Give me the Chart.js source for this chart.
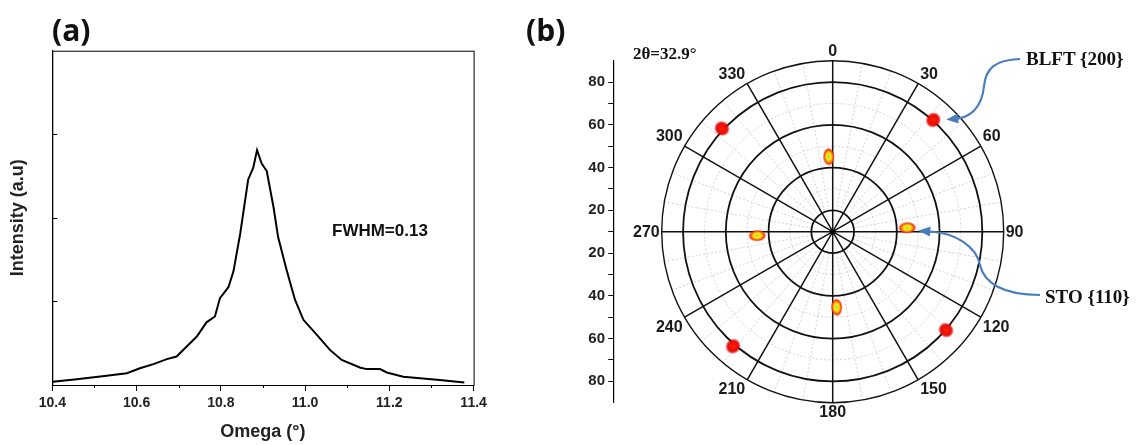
<!DOCTYPE html>
<html>
<head>
<meta charset="utf-8">
<script src="https://cdn.jsdelivr.net/npm/chart.js@4.4.0/dist/chart.umd.min.js"></script>
<style>
  html, body { margin: 0; padding: 0; background: #fff; }
  #wrap { position: relative; width: 1138px; height: 445px; overflow: hidden; }
  canvas { position: absolute; top: 0; }
  #chartA { left: 0; }
  #chartB { left: 500px; }
  .lbl { position: absolute; white-space: nowrap; color: #111; line-height: 1; transform: translateY(-50%); }
  .panel { font-family: 'Open Sans'; font-weight: 700; font-size: 30px; }
  .sans { font-family: 'Liberation Sans'; font-weight: 700; font-size: 17px; }
  .serif { font-family: 'Liberation Serif'; font-weight: 700; }
</style>
</head>
<body>
<div id="wrap">
  <canvas id="chartA" width="500" height="445"></canvas>
  <canvas id="chartB" width="638" height="445"></canvas>
  <div class="lbl panel" style="left:52px;top:30px">(a)</div>
  <div class="lbl panel" style="left:526px;top:30px">(b)</div>
  <div class="lbl sans" style="left:332px;top:230px">FWHM=0.13</div>
  <div class="lbl serif" style="left:633px;top:53px;font-size:17px">2θ=32.9°</div>
  <div class="lbl serif" style="left:1026px;top:58px;font-size:19px">BLFT {200}</div>
  <div class="lbl serif" style="left:1045px;top:296px;font-size:19px">STO {110}</div>
</div>
<script>
// ---- panel (a): omega rocking curve ----
const omega = [10.401, 10.458, 10.529, 10.577, 10.608, 10.640, 10.672, 10.695, 10.719, 10.743,
               10.766, 10.786, 10.798, 10.818, 10.830, 10.846, 10.865, 10.877, 10.886, 10.897,
               10.909, 10.925, 10.936, 10.956, 10.976, 10.996, 11.028, 11.059, 11.087, 11.130,
               11.146, 11.178, 11.194, 11.233, 11.273, 11.320, 11.378];
const intensity = [0.04, 0.07, 0.11, 0.14, 0.20, 0.25, 0.31, 0.34, 0.46, 0.58,
                   0.75, 0.82, 1.04, 1.17, 1.36, 1.81, 2.46, 2.60, 2.81, 2.65,
                   2.56, 2.13, 1.77, 1.38, 1.02, 0.78, 0.60, 0.42, 0.30, 0.21,
                   0.19, 0.19, 0.15, 0.10, 0.08, 0.06, 0.03];
const omegaMinor = [10.5, 10.7, 10.9, 11.1, 11.3];
const intensityTicks = [1, 2, 3];

// ---- panel (b): pole figure ----
const stoPhi = [357, 87, 177, 267];
const stoPsi = [45.1, 44.9, 45.4, 45.3];
const blftPhi = [42, 131, 221, 313];
const blftPsi = [80.3, 80.2, 81.0, 80.8];
const phiLabels = [0, 30, 60, 90, 120, 150, 180, 210, 240, 270, 300, 330];
const psiCenter = 10;
const psiOuter = 90;
const psiRings = [20, 40, 60, 80];
const psiDotted = [30, 50, 70];
const psiAxisLabels = [20, 40, 60, 80];
const psiAxisMinor = [10, 30, 50, 70];

Chart.defaults.font.family = 'Liberation Sans';
Chart.defaults.color = '#222';

const frameA = {
  id: 'frameA',
  afterDraw(chart) {
    const {ctx, chartArea: a, scales: {x, y}} = chart;
    ctx.save();
    ctx.strokeStyle = '#000';
    ctx.lineWidth = 1;
    ctx.strokeRect(a.left + 0.5, a.top + 0.5, a.right - a.left, a.bottom - a.top);
    ctx.beginPath();
    omegaMinor.forEach(v => {
      const px = Math.round(x.getPixelForValue(v)) + 0.5;
      ctx.moveTo(px, a.bottom); ctx.lineTo(px, a.bottom + 3);
    });
    intensityTicks.forEach(v => {
      const py = Math.round(y.getPixelForValue(v)) + 0.5;
      ctx.moveTo(a.left, py); ctx.lineTo(a.left + 5, py);
    });
    ctx.stroke();
    ctx.restore();
  }
};

new Chart(document.getElementById('chartA'), {
  type: 'scatter',
  data: {
    datasets: [{
      data: omega.map((v, i) => ({x: v, y: intensity[i]})),
      showLine: true,
      borderColor: '#000',
      borderWidth: 2,
      pointRadius: 0,
      tension: 0
    }]
  },
  options: {
    responsive: false,
    animation: false,
    layout: {padding: {top: 50.7, right: 26.4, left: 0, bottom: 0}},
    plugins: {legend: {display: false}, tooltip: {enabled: false}},
    scales: {
      x: {
        type: 'linear', min: 10.4, max: 11.4,
        afterFit: s => { s.height = 60; },
        ticks: {stepSize: 0.2, padding: 4, font: {size: 14, weight: 'bold'}, callback: v => v.toFixed(1)},
        grid: {drawOnChartArea: false, tickLength: 6, color: '#000'},
        border: {color: '#000'},
        title: {display: true, text: 'Omega (°)', font: {size: 18, weight: 'bold'}, color: '#222', padding: {top: 0, bottom: 2}}
      },
      y: {
        min: 0, max: 4,
        afterFit: s => { s.width = 52.3; },
        ticks: {display: false},
        grid: {display: false},
        border: {color: '#000'},
        title: {display: true, text: 'Intensity (a.u)', font: {size: 18, weight: 'bold'}, color: '#222', padding: {top: 7, bottom: 0}}
      }
    }
  },
  plugins: [frameA]
});

// spot images, elongated along the radial direction before rotation
function makeSpot(w, h, stops) {
  const c = document.createElement('canvas');
  c.width = w; c.height = h;
  const g = c.getContext('2d');
  g.translate(w / 2, h / 2);
  g.scale(1, h / w);
  const grad = g.createRadialGradient(0, 0, 0, 0, 0, w / 2);
  stops.forEach(([o, col]) => grad.addColorStop(o, col));
  g.fillStyle = grad;
  g.beginPath(); g.arc(0, 0, w / 2, 0, 2 * Math.PI); g.fill();
  return c;
}
const stoSpot = makeSpot(11, 17, [[0, '#8fdc3c'], [0.22, '#d6ee2a'], [0.42, '#ffe41a'], [0.62, '#ffa200'], [0.82, '#f03a0c'], [1, 'rgba(228,20,20,0.55)']]);
const blftSpot = makeSpot(14, 15, [[0, '#ff2200'], [0.7, '#e80a0a'], [1, 'rgba(220,0,0,0.45)']]);

const toXY = (phi, psi) => phi.map((p, i) => {
  const t = p * Math.PI / 180, r = psi[i] - psiCenter;
  return {x: r * Math.sin(t), y: r * Math.cos(t)};
});

const polarGrid = {
  id: 'polarGrid',
  beforeDatasetsDraw(chart) {
    const {ctx, scales: {x, y}} = chart;
    const cx = x.getPixelForValue(0), cy = y.getPixelForValue(0);
    const k = cy - y.getPixelForValue(1);
    const R = p => (p - psiCenter) * k;
    const pt = (deg, r) => {
      const t = deg * Math.PI / 180;
      return [cx + r * Math.sin(t), cy - r * Math.cos(t)];
    };
    ctx.save();
    // dotted background grid
    ctx.strokeStyle = '#d2d2d2';
    ctx.lineWidth = 1;
    ctx.setLineDash([2, 2]);
    psiDotted.forEach(p => { ctx.beginPath(); ctx.arc(cx, cy, R(p), 0, 2 * Math.PI); ctx.stroke(); });
    for (let a = 10; a < 360; a += 10) {
      if (a % 30 === 0) continue;
      const [x0, y0] = pt(a, R(psiRings[0]));
      const [x1, y1] = pt(a, R(psiOuter));
      ctx.beginPath(); ctx.moveTo(x0, y0); ctx.lineTo(x1, y1); ctx.stroke();
    }
    ctx.setLineDash([]);
    // solid rings and spokes
    ctx.strokeStyle = '#111';
    ctx.lineWidth = 1.8;
    psiRings.forEach(p => { ctx.beginPath(); ctx.arc(cx, cy, R(p), 0, 2 * Math.PI); ctx.stroke(); });
    ctx.lineWidth = 1.4;
    ctx.beginPath(); ctx.arc(cx, cy, R(psiOuter), 0, 2 * Math.PI); ctx.stroke();
    ctx.lineWidth = 1.5;
    phiLabels.forEach(a => {
      const [x1, y1] = pt(a, R(psiOuter));
      ctx.beginPath(); ctx.moveTo(cx, cy); ctx.lineTo(x1, y1); ctx.stroke();
    });
    ctx.fillStyle = '#000';
    ctx.beginPath(); ctx.arc(cx, cy, 2.5, 0, 2 * Math.PI); ctx.fill();
    // angle labels
    ctx.font = 'bold 16px "Liberation Sans"';
    ctx.fillStyle = '#1a1a1a';
    phiLabels.forEach(a => {
      const t = a * Math.PI / 180, s = Math.sin(t), c = Math.cos(t);
      let [lx, ly] = pt(a, R(psiOuter));
      ctx.textAlign = s > 0.01 ? 'left' : (s < -0.01 ? 'right' : 'center');
      if (c > 0.01) { ctx.textBaseline = 'alphabetic'; ly -= 5; }
      else if (c < -0.01) { ctx.textBaseline = 'top'; ly += 2; }
      else { ctx.textBaseline = 'middle'; ly += 1; }
      if (s > 0.01) lx += 2; else if (s < -0.01) lx -= 2;
      ctx.fillText(String(a), lx, ly);
    });
    ctx.restore();
  }
};

const arrows = {
  id: 'arrows',
  afterDatasetsDraw(chart) {
    const {ctx, scales: {x, y}} = chart;
    const off = 500;
    const spot = (phi, psi) => {
      const t = phi * Math.PI / 180, r = psi - psiCenter;
      return [x.getPixelForValue(r * Math.sin(t)), y.getPixelForValue(r * Math.cos(t))];
    };
    const draw = (segs, base, tip) => {
      ctx.beginPath();
      ctx.moveTo(segs[0][0] - off, segs[0][1]);
      for (let i = 1; i < segs.length; i += 3) {
        ctx.bezierCurveTo(segs[i][0] - off, segs[i][1], segs[i + 1][0] - off, segs[i + 1][1], segs[i + 2][0] - off, segs[i + 2][1]);
      }
      ctx.stroke();
      const dx = tip[0] - (base[0] - off), dy = tip[1] - base[1];
      const L = Math.hypot(dx, dy), ux = dx / L, uy = dy / L;
      const bx = tip[0] - ux * 12, by = tip[1] - uy * 12;
      ctx.beginPath();
      ctx.moveTo(tip[0], tip[1]);
      ctx.lineTo(bx - uy * 5, by + ux * 5);
      ctx.lineTo(bx + uy * 5, by - ux * 5);
      ctx.closePath();
      ctx.fill();
    };
    ctx.save();
    ctx.strokeStyle = '#4a7dbd';
    ctx.fillStyle = '#4a7dbd';
    ctx.lineWidth = 2.2;
    const b = spot(blftPhi[0], blftPsi[0]);
    draw([[1020, 59], [995, 60], [986, 68], [984, 86], [982, 108], [970, 117], [957, 118.6]],
         [957, 118.6], [b[0] + 13, b[1] - 0.5]);
    const s = spot(stoPhi[1], stoPsi[1]);
    draw([[1040, 295], [1003, 295], [984, 283], [980, 265], [976, 246], [955, 233], [930, 231.5]],
         [930, 231.5], [s[0] + 11, s[1] + 3]);
    ctx.restore();
  }
};

new Chart(document.getElementById('chartB'), {
  type: 'scatter',
  data: {
    datasets: [
      {data: toXY(stoPhi, stoPsi), pointStyle: stoSpot, pointRadius: 6, rotation: c => stoPhi[c.dataIndex]},
      {data: toXY(blftPhi, blftPsi), pointStyle: blftSpot, pointRadius: 6, rotation: c => blftPhi[c.dataIndex]}
    ]
  },
  options: {
    responsive: false,
    animation: false,
    layout: {padding: {top: 60.7, bottom: 42.3, right: 85.9, left: 0}},
    plugins: {legend: {display: false}, tooltip: {enabled: false}},
    scales: {
      x: {type: 'linear', min: -102.6, max: 102.6, display: false},
      y: {
        type: 'linear', min: psiCenter - psiOuter, max: psiOuter - psiCenter,
        afterFit: s => { s.width = 113.3; },
        afterBuildTicks: s => {
          const vals = [];
          psiAxisLabels.concat(psiAxisMinor).forEach(p => {
            vals.push(p - psiCenter);
            if (p !== psiCenter) vals.push(psiCenter - p);
          });
          s.ticks = vals.sort((a, b) => a - b).map(v => ({value: v}));
        },
        ticks: {
          autoSkip: false, padding: 3.3, font: {size: 15, weight: 'bold'},
          callback: v => {
            const p = Math.abs(v) + psiCenter;
            return psiAxisLabels.includes(p) ? String(p) : '';
          }
        },
        grid: {drawOnChartArea: false, tickLength: 5, color: '#000'},
        border: {color: '#000', width: 1.2}
      }
    }
  },
  plugins: [polarGrid, arrows]
});
</script>
</body>
</html>
